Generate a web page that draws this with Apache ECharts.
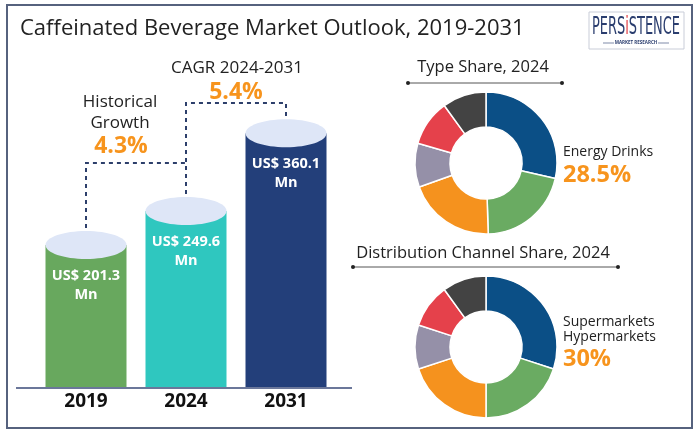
<!DOCTYPE html>
<html><head><meta charset="utf-8">
<script src="https://cdn.jsdelivr.net/npm/echarts@6/dist/echarts.min.js"></script>
<style>html,body{margin:0;padding:0;background:#fff}#c{width:700px;height:435px}</style>
</head><body><div id="c"></div>
<script>
// ---- data ----
const years = ['2019', '2024', '2031'];
const marketValues = [201.3, 249.6, 360.1];
const barLabels = ['US$ 201.3\nMn', 'US$ 249.6\nMn', 'US$ 360.1\nMn'];
const growthLabels = ['Historical\nGrowth', 'CAGR 2024-2031'];
const growthRates = ['4.3%', '5.4%'];
const typeNames = ['Energy Drinks', 'Type B', 'Type C', 'Type D', 'Type E', 'Type F'];
const typeShares = [28.5, 21, 20, 10, 10.5, 10];
const channelNames = ['Supermarkets Hypermarkets', 'Channel B', 'Channel C', 'Channel D', 'Channel E', 'Channel F'];
const channelShares = [30, 20, 20, 10, 10, 10];

// ---- styles ----
const FONT = "'Open Sans', 'Noto Sans', sans-serif";
const barColors = ['#68a85e', '#2fc7bf', '#233f7a'];
const sliceColors = ['#0b4f86', '#6aab62', '#f5921e', '#9590a8', '#e5414b', '#434343'];
const ORANGE = '#f7941d';
const DARK = '#222222';
const connectorLevels = [null, 163, 103];

const chart = echarts.init(document.getElementById('c'), null, {renderer: 'canvas'});

function renderCylinder(params, api) {
  const i = params.dataIndex;
  const top = api.coord([i, api.value(1)]);
  const base = api.coord([i, 0]);
  const w = api.size([1, 0])[0] * 0.81;
  const ry = 14;
  const children = [
    {type: 'rect', shape: {x: top[0] - w / 2, y: top[1], width: w, height: base[1] - top[1]}, style: {fill: barColors[i]}},
    {type: 'ellipse', shape: {cx: top[0], cy: top[1], rx: w / 2, ry: ry}, style: {fill: '#dee6f7'}},
    {type: 'text', style: {text: barLabels[i], x: top[0], y: top[1] + 40, align: 'center', verticalAlign: 'middle',
      fill: '#ffffff', font: 'bold 14.5px ' + FONT, lineHeight: 19}}
  ];
  if (i > 0) {
    const prev = api.coord([i - 1, marketValues[i - 1]]);
    const lvl = connectorLevels[i];
    children.push({type: 'polyline', shape: {points: [
      [prev[0], prev[1] - ry - 3], [prev[0], lvl], [top[0], lvl], [top[0], Math.max(top[1] - ry - 3, lvl + 6)]
    ]}, style: {stroke: '#2d3f6b', lineWidth: 2, lineDash: [4, 4], fill: null}});
  }
  return {type: 'group', children};
}

const option = {
  backgroundColor: '#ffffff',
  animation: false,
  grid: {left: 36, width: 300, top: 105, bottom: 48},
  xAxis: {
    type: 'category', data: years,
    axisLine: {show: false}, axisTick: {show: false},
    axisLabel: {fontFamily: FONT, fontSize: 19, fontWeight: 'bold', color: '#111', margin: 5}
  },
  yAxis: {type: 'value', min: 0, max: 400, show: false, splitLine: {show: false}},
  series: [
    {type: 'custom', renderItem: renderCylinder, data: marketValues.map((v, i) => [i, v]), z: 5},
    {type: 'pie', center: [486, 163], radius: [36, 71], startAngle: 90, clockwise: true,
      label: {show: false}, labelLine: {show: false}, silent: true,
      itemStyle: {borderColor: '#fff', borderWidth: 1.5},
      data: typeNames.map((n, i) => ({name: n, value: typeShares[i], itemStyle: {color: sliceColors[i]}}))},
    {type: 'pie', center: [486, 347], radius: [36, 71], startAngle: 90, clockwise: true,
      label: {show: false}, labelLine: {show: false}, silent: true,
      itemStyle: {borderColor: '#fff', borderWidth: 1.5},
      data: channelNames.map((n, i) => ({name: n, value: channelShares[i], itemStyle: {color: sliceColors[i]}}))}
  ],
  graphic: [
    {type: 'rect', shape: {x: 7, y: 5, width: 685, height: 423}, style: {fill: null, stroke: '#56627e', lineWidth: 2}, z: 100},
    {type: 'text', x: 20, y: 29, style: {text: 'Caffeinated Beverage Market Outlook, 2019-2031', font: '22px ' + FONT, fill: DARK, verticalAlign: 'middle'}},
    // logo
    {type: 'rect', shape: {x: 589, y: 12, width: 95, height: 37}, style: {fill: '#fff', stroke: '#c9cdd8', lineWidth: 1}},
    {type: 'text', x: 636, y: 28, scaleX: 0.6, style: {
      text: '{a|PERS}{b|i}{a|STENCE}', align: 'center', verticalAlign: 'middle',
      rich: {a: {font: '24px "DejaVu Sans Condensed", sans-serif', fill: '#2a3d6e'}, b: {font: '24px "DejaVu Sans Condensed", sans-serif', fill: '#e23a3f'}}}},
    {type: 'text', x: 636, y: 43, style: {text: 'MARKET RESEARCH', font: 'bold 4.5px ' + FONT, fill: '#2a3d6e', align: 'center', verticalAlign: 'middle'}},
    {type: 'line', shape: {x1: 603, y1: 43, x2: 614, y2: 43}, style: {stroke: '#2a3d6e', lineWidth: 0.6}},
    {type: 'line', shape: {x1: 658, y1: 43, x2: 669, y2: 43}, style: {stroke: '#2a3d6e', lineWidth: 0.6}},
    // axis baseline
    {type: 'line', shape: {x1: 16, y1: 388, x2: 352, y2: 388}, style: {stroke: '#3a4a78', lineWidth: 1.5}},
    // growth annotations
    {type: 'text', x: 120, y: 113, style: {text: growthLabels[0], font: '17px ' + FONT, fill: DARK, align: 'center', verticalAlign: 'middle', lineHeight: 21}},
    {type: 'text', x: 121, y: 146, style: {text: growthRates[0], font: 'bold 23px ' + FONT, fill: ORANGE, align: 'center', verticalAlign: 'middle'}},
    {type: 'text', x: 237, y: 68, style: {text: growthLabels[1], font: '17px ' + FONT, fill: DARK, align: 'center', verticalAlign: 'middle'}},
    {type: 'text', x: 236, y: 92, style: {text: growthRates[1], font: 'bold 23px ' + FONT, fill: ORANGE, align: 'center', verticalAlign: 'middle'}},
    // right panel titles
    {type: 'text', x: 483, y: 67, style: {text: 'Type Share, 2024', font: '16.5px ' + FONT, fill: DARK, align: 'center', verticalAlign: 'middle'}},
    {type: 'line', shape: {x1: 408, y1: 83, x2: 562, y2: 83}, style: {stroke: '#555', lineWidth: 1}},
    {type: 'circle', shape: {cx: 408, cy: 83, r: 2}, style: {fill: '#222'}},
    {type: 'circle', shape: {cx: 562, cy: 83, r: 2}, style: {fill: '#222'}},
    {type: 'text', x: 483, y: 253, style: {text: 'Distribution Channel Share, 2024', font: '16.5px ' + FONT, fill: DARK, align: 'center', verticalAlign: 'middle'}},
    {type: 'line', shape: {x1: 353, y1: 267, x2: 618, y2: 267}, style: {stroke: '#555', lineWidth: 1}},
    {type: 'circle', shape: {cx: 353, cy: 267, r: 2}, style: {fill: '#222'}},
    {type: 'circle', shape: {cx: 618, cy: 267, r: 2}, style: {fill: '#222'}},
    // pie callouts
    {type: 'text', x: 563, y: 152, style: {text: typeNames[0], font: '14px ' + FONT, fill: DARK, verticalAlign: 'middle'}},
    {type: 'text', x: 563, y: 175, style: {text: typeShares[0] + '%', font: 'bold 23.5px ' + FONT, fill: ORANGE, verticalAlign: 'middle'}},
    {type: 'text', x: 563, y: 330, style: {text: 'Supermarkets\nHypermarkets', font: '14px ' + FONT, fill: DARK, verticalAlign: 'middle', lineHeight: 15}},
    {type: 'text', x: 563, y: 359, style: {text: channelShares[0] + '%', font: 'bold 23.5px ' + FONT, fill: ORANGE, verticalAlign: 'middle'}}
  ]
};
chart.setOption(option);
</script>
</body></html>
